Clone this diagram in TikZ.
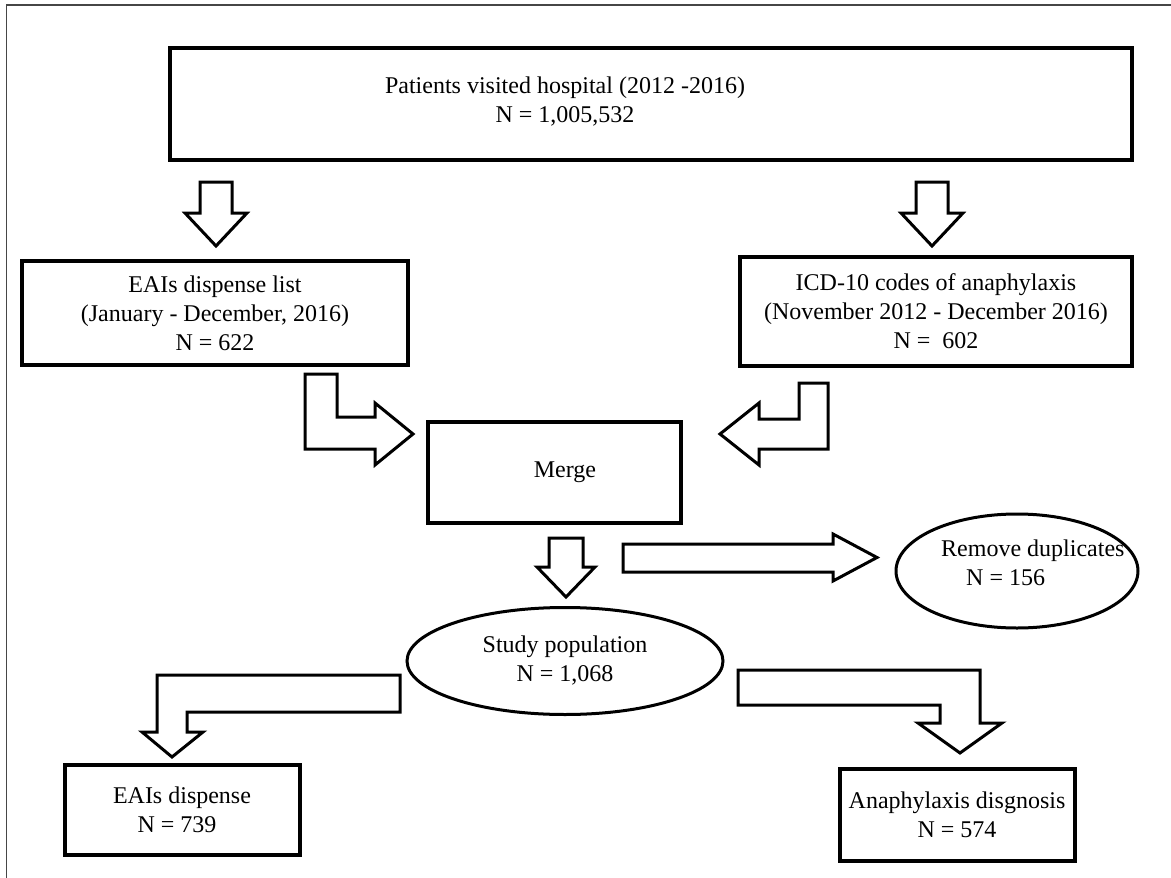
\documentclass[tikz,border=0pt]{standalone}
\usepackage{fontspec}
\setmainfont{Liberation Serif}
\usetikzlibrary{positioning,shapes.geometric}

\begin{document}
\begin{tikzpicture}[
  x=1pt, y=-1pt,
  box/.style={draw, line width=4pt, align=center, inner sep=0pt,
              font=\fontsize{24}{29}\selectfont},
  oval/.style={draw, ellipse, line width=3pt, align=center, inner sep=0pt,
               font=\fontsize{24}{29}\selectfont},
  txt/.style={align=center, inner sep=0pt, font=\fontsize{24}{29}\selectfont},
  fat/.style={draw, line width=3pt, fill=white, line join=miter},
  frame/.style={draw=gray!55!black}
]
\useasboundingbox (0,0) rectangle (1171,878);
\draw[frame, line width=2pt] (6,5) -- (1171,5);
\draw[frame, line width=1pt] (6,5) -- (6,878);

% boxes
\node[box, minimum width=962, minimum height=112] (pop) at (651,104) {};
\node[txt] (poptxt) at (565,102) {Patients visited hospital (2012 -2016)\\N = 1,005,532};
\node[box, minimum width=386, minimum height=104] (eail) at (215,313)
  {EAIs dispense list\\ (January - December, 2016)\\N = 622};
\node[box, minimum width=392, minimum height=109] (icd) at (936,311)
  {ICD-10 codes of anaphylaxis\\(November 2012 - December 2016)\\N =\ \ 602};
\node[box, minimum width=253, minimum height=101] (merge) at (554,472) {\hspace*{22pt}Merge};
\node[oval, minimum width=316, minimum height=107] (study) at (565,661)
  {Study population\\N = 1,068};
\node[oval, minimum width=242, minimum height=114] (dup) at (1017,571) {};
\node[txt, align=left, anchor=west] (duptxt) at (941,563)
  {Remove duplicates\\\hspace*{25pt}N = 156};
\node[box, minimum width=235, minimum height=90] (eaid) at (182,810)
  {EAIs dispense\\N = 739\hspace*{10pt}};
\node[box, minimum width=235, minimum height=92] (ana) at (957,815)
  {Anaphylaxis disgnosis\\N = 574};

% block arrows
\draw[fat] (200,182) -- (232,182) -- (232,213) -- (247,213) -- (216,246)
  -- (185,213) -- (200,213) -- cycle;
\draw[fat] (916,182) -- (948,182) -- (948,213) -- (963,213) -- (932,246)
  -- (901,213) -- (916,213) -- cycle;
\draw[fat] (305,374) -- (337,374) -- (337,417) -- (375,417) -- (375,403)
  -- (413,434) -- (375,465) -- (375,449) -- (305,449) -- cycle;
\draw[fat] (828,383) -- (828,449) -- (759,449) -- (759,465) -- (720,434)
  -- (759,403) -- (759,419) -- (799,419) -- (799,383) -- cycle;
\draw[fat] (549,538) -- (583,538) -- (583,567) -- (595,567) -- (566,597)
  -- (537,567) -- (549,567) -- cycle;
\draw[fat] (623,544) -- (833,544) -- (833,534) -- (877,557.5) -- (833,581)
  -- (833,572) -- (623,572) -- cycle;
\draw[fat] (400,675) -- (400,712) -- (187,712) -- (187,732) -- (203,732)
  -- (172,757) -- (142,732) -- (157,732) -- (157,675) -- cycle;
\draw[fat] (738,670) -- (980,670) -- (980,723) -- (1002,723) -- (960,753)
  -- (918,723) -- (940,723) -- (940,705) -- (738,705) -- cycle;
\end{tikzpicture}
\end{document}
